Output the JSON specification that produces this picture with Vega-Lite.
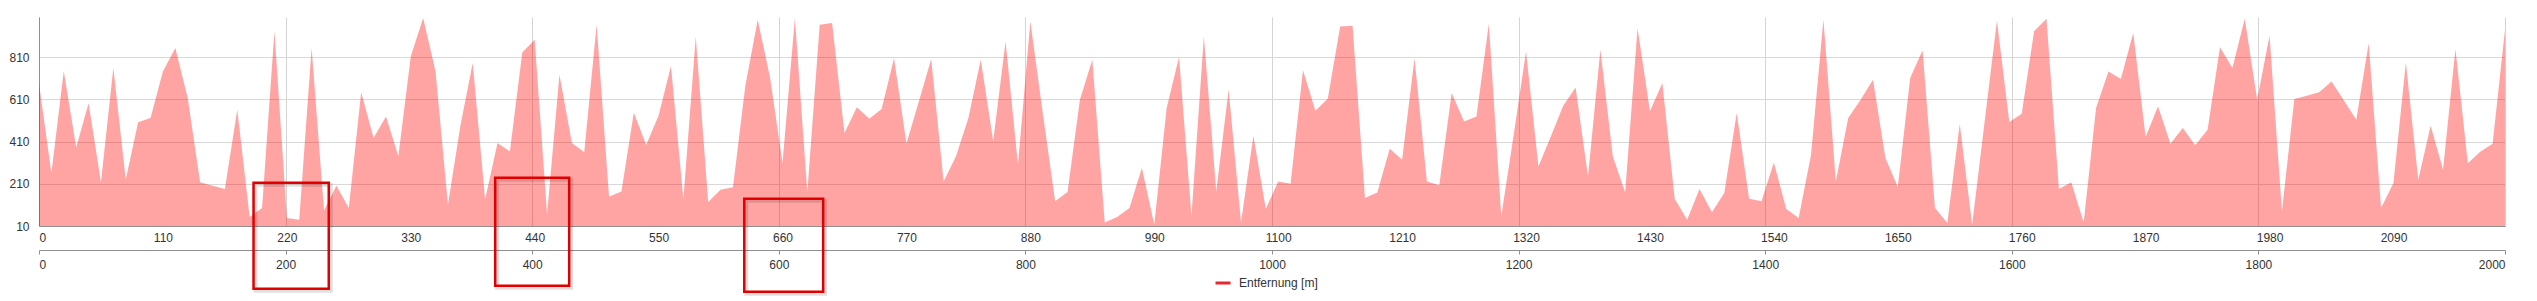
{
  "$schema": "https://vega.github.io/schema/vega-lite/v6.json",
  "autosize": "none",
  "width": 2466,
  "height": 209,
  "padding": {"left": 39, "top": 17, "right": 32, "bottom": 75},
  "background": "#ffffff",
  "config": {
    "view": {"stroke": null},
    "font": "Liberation Sans",
    "axis": {"labelFont": "Liberation Sans", "labelFontSize": 12, "labelColor": "#333333", "title": null, "domainColor": "#8f8f8f", "gridColor": "#d8d8d8", "tickColor": "#8f8f8f", "format": "d"}
  },
  "datasets": {
    "profile": [
      {"x":0,"v":685},{"x":11,"v":260},{"x":22,"v":744},{"x":33,"v":382},{"x":44,"v":591},{"x":55,"v":217},{"x":66,"v":760},{"x":77,"v":229},{"x":88,"v":501},{"x":99,"v":521},
      {"x":110,"v":742},{"x":121,"v":853},{"x":132,"v":616},{"x":143,"v":217},{"x":154,"v":201},{"x":165,"v":185},{"x":176,"v":561},{"x":187,"v":53},{"x":198,"v":95},{"x":209,"v":932},
      {"x":220,"v":48},{"x":231,"v":40},{"x":242,"v":853},{"x":253,"v":84},{"x":264,"v":201},{"x":275,"v":95},{"x":286,"v":643},{"x":297,"v":427},{"x":308,"v":529},{"x":319,"v":340},
      {"x":330,"v":813},{"x":341,"v":995},{"x":352,"v":742},{"x":363,"v":111},{"x":374,"v":482},{"x":385,"v":782},{"x":396,"v":135},{"x":407,"v":403},{"x":418,"v":363},{"x":429,"v":832},
      {"x":440,"v":892},{"x":451,"v":64},{"x":462,"v":726},{"x":473,"v":403},{"x":484,"v":359},{"x":495,"v":963},{"x":506,"v":148},{"x":517,"v":174},{"x":528,"v":546},{"x":539,"v":394},
      {"x":550,"v":533},{"x":561,"v":768},{"x":572,"v":135},{"x":583,"v":906},{"x":594,"v":124},{"x":605,"v":182},{"x":616,"v":193},{"x":627,"v":674},{"x":638,"v":987},{"x":649,"v":711},
      {"x":660,"v":308},{"x":671,"v":995},{"x":682,"v":169},{"x":693,"v":963},{"x":704,"v":971},{"x":715,"v":450},{"x":726,"v":573},{"x":737,"v":518},{"x":748,"v":564},{"x":759,"v":805},
      {"x":770,"v":400},{"x":781,"v":600},{"x":792,"v":801},{"x":803,"v":221},{"x":814,"v":340},{"x":825,"v":521},{"x":836,"v":797},{"x":847,"v":411},{"x":858,"v":884},{"x":869,"v":300},
      {"x":880,"v":979},{"x":891,"v":545},{"x":902,"v":127},{"x":913,"v":171},{"x":924,"v":608},{"x":935,"v":797},{"x":946,"v":27},{"x":957,"v":53},{"x":968,"v":95},{"x":979,"v":285},
      {"x":990,"v":16},{"x":1001,"v":569},{"x":1012,"v":810},{"x":1023,"v":56},{"x":1034,"v":908},{"x":1045,"v":174},{"x":1056,"v":655},{"x":1067,"v":27},{"x":1078,"v":438},{"x":1089,"v":90},
      {"x":1100,"v":221},{"x":1111,"v":210},{"x":1122,"v":748},{"x":1133,"v":556},{"x":1144,"v":613},{"x":1155,"v":955},{"x":1166,"v":958},{"x":1177,"v":143},{"x":1188,"v":169},{"x":1199,"v":376},
      {"x":1210,"v":324},{"x":1221,"v":805},{"x":1232,"v":221},{"x":1243,"v":203},{"x":1254,"v":640},{"x":1265,"v":505},{"x":1276,"v":529},{"x":1287,"v":968},{"x":1298,"v":56},{"x":1309,"v":440},
      {"x":1320,"v":837},{"x":1331,"v":292},{"x":1342,"v":434},{"x":1353,"v":580},{"x":1364,"v":666},{"x":1375,"v":245},{"x":1386,"v":845},{"x":1397,"v":340},{"x":1408,"v":169},{"x":1419,"v":947},
      {"x":1430,"v":553},{"x":1441,"v":687},{"x":1452,"v":138},{"x":1463,"v":40},{"x":1474,"v":185},{"x":1485,"v":75},{"x":1496,"v":166},{"x":1507,"v":545},{"x":1518,"v":139},{"x":1529,"v":127},
      {"x":1540,"v":311},{"x":1551,"v":90},{"x":1562,"v":48},{"x":1573,"v":348},{"x":1584,"v":987},{"x":1595,"v":221},{"x":1606,"v":521},{"x":1617,"v":608},{"x":1628,"v":703},{"x":1639,"v":332},
      {"x":1650,"v":195},{"x":1661,"v":711},{"x":1672,"v":842},{"x":1683,"v":95},{"x":1694,"v":24},{"x":1705,"v":493},{"x":1716,"v":16},{"x":1727,"v":500},{"x":1738,"v":982},{"x":1749,"v":503},
      {"x":1760,"v":542},{"x":1771,"v":932},{"x":1782,"v":992},{"x":1793,"v":185},{"x":1804,"v":217},{"x":1815,"v":27},{"x":1826,"v":569},{"x":1837,"v":742},{"x":1848,"v":706},{"x":1859,"v":924},
      {"x":1870,"v":431},{"x":1881,"v":577},{"x":1892,"v":400},{"x":1903,"v":474},{"x":1914,"v":392},{"x":1925,"v":466},{"x":1936,"v":857},{"x":1947,"v":758},{"x":1958,"v":992},{"x":1969,"v":608},
      {"x":1980,"v":911},{"x":1991,"v":79},{"x":2002,"v":611},{"x":2013,"v":627},{"x":2024,"v":644},{"x":2035,"v":695},{"x":2046,"v":605},{"x":2057,"v":513},{"x":2068,"v":876},{"x":2079,"v":95},
      {"x":2090,"v":214},{"x":2101,"v":785},{"x":2112,"v":229},{"x":2123,"v":485},{"x":2134,"v":276},{"x":2145,"v":848},{"x":2156,"v":307},{"x":2167,"v":362},{"x":2178,"v":400},{"x":2189,"v":939}
    ],
    "boxes": [
      {"x1": 174, "x2": 235, "y1": 215, "y2": -287},
      {"x1": 370, "x2": 430, "y1": 239, "y2": -273},
      {"x1": 572, "x2": 636, "y1": 139, "y2": -301}
    ]
  },
  "layer": [
    {
      "data": {"name": "profile"},
      "mark": {"type": "point", "opacity": 0},
      "encoding": {
        "x": {"field": "x", "type": "quantitative", "scale": {"domain": [0, 2000], "nice": false, "zero": false},
          "axis": {"orient": "bottom", "offset": 24, "values": [0,200,400,600,800,1000,1200,1400,1600,1800,2000], "format": "d", "grid": true, "gridColor": "#d4d4d4", "ticks": true, "tickSize": 4, "labelPadding": 5, "domainColor": "#8f8f8f"}},
        "y": {"field": "v", "type": "quantitative", "scale": {"domain": [10, 1000], "nice": false, "zero": false}}
      }
    },
    {
      "data": {"name": "profile"},
      "mark": {"type": "area", "fillOpacity": 0.36, "interpolate": "linear"},
      "encoding": {
        "x": {"field": "x", "type": "quantitative", "scale": {"domain": [0, 2189], "nice": false, "zero": false},
          "axis": {"orient": "bottom", "values": [0,110,220,330,440,550,660,770,880,990,1100,1210,1320,1430,1540,1650,1760,1870,1980,2090], "format": "d", "grid": false, "ticks": false, "labelPadding": 6}},
        "y": {"field": "v", "type": "quantitative", "scale": {"domain": [10, 1000], "nice": false, "zero": false},
          "axis": {"values": [10, 210, 410, 610, 810], "format": "d", "grid": true, "ticks": false, "labelPadding": 10}},
        "y2": {"datum": 10},
        "color": {"datum": "Entfernung [m]", "type": "nominal", "scale": {"range": ["#ff0000"]},
          "legend": {"orient": "none", "legendX": 1175, "legendY": 257, "title": null, "symbolType": "stroke", "symbolSize": 225, "symbolStrokeWidth": 3, "labelOffset": 7, "padding": 0, "labelFontSize": 12, "labelFont": "Liberation Sans", "labelColor": "#333333",
            "encode": {"symbols": {"update": {"stroke": {"value": "#e8282e"}, "fill": {"value": "transparent"}, "strokeWidth": {"value": 3}, "opacity": {"value": 1}}}}}}
      }
    },
    {
      "data": {"name": "boxes"},
      "mark": {"type": "rect", "filled": false, "stroke": "#000000", "strokeOpacity": 0.12, "strokeWidth": 4, "xOffset": 2, "yOffset": 2, "x2Offset": 2, "y2Offset": 2, "clip": false},
      "encoding": {
        "x": {"field": "x1", "type": "quantitative", "scale": {"domain": [0, 2000], "nice": false, "zero": false}, "axis": null},
        "x2": {"field": "x2"},
        "y": {"field": "y1", "type": "quantitative"},
        "y2": {"field": "y2"}
      }
    },
    {
      "data": {"name": "boxes"},
      "mark": {"type": "rect", "filled": false, "stroke": "#e00000", "strokeWidth": 2.5, "clip": false},
      "encoding": {
        "x": {"field": "x1", "type": "quantitative", "scale": {"domain": [0, 2000], "nice": false, "zero": false}, "axis": null},
        "x2": {"field": "x2"},
        "y": {"field": "y1", "type": "quantitative"},
        "y2": {"field": "y2"}
      }
    }
  ],
  "resolve": {"scale": {"x": "independent", "color": "independent"}, "axis": {"x": "independent"}}
}
